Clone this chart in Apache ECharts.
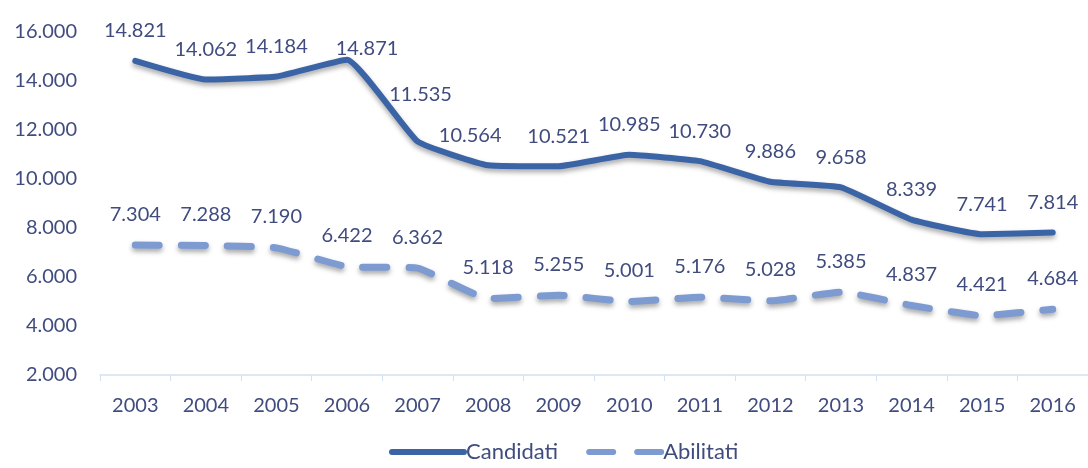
<!DOCTYPE html>
<html><head><meta charset="utf-8">
<script src="https://cdn.jsdelivr.net/npm/echarts@6/dist/echarts.min.js"></script>
<style>html,body{margin:0;padding:0;background:#fff}#c{width:1088px;height:468px}</style>
</head><body><div id="c"></div>
<script>
var years = ['2003','2004','2005','2006','2007','2008','2009','2010','2011','2012','2013','2014','2015','2016'];
var candidati = [14821,14062,14184,14871,11535,10564,10521,10985,10730,9886,9658,8339,7741,7814];
var abilitati = [7304,7288,7190,6422,6362,5118,5255,5001,5176,5028,5385,4837,4421,4684];
function fmt(v){ return String(v).replace(/\B(?=(\d{3})+(?!\d))/g,'.'); }
var txt = '#404c7f';
var fs = 20;
var candLabelTweaks = {3:[20,19],4:[3,-17],5:[-18,0]};
var candData = candidati.map(function(v,i){
  var o = {value:v};
  if (candLabelTweaks[i]) o.label = {offset:candLabelTweaks[i]};
  return o;
});
var chart = echarts.init(document.getElementById('c'));
chart.setOption({
  animation:false,
  textStyle:{fontFamily:'Lato'},
  grid:{left:100,top:32,width:994,height:343},
  legend:{bottom:0,left:384,itemWidth:72,itemHeight:8,itemGap:28,
    itemStyle:{opacity:0},
    textStyle:{color:txt,fontSize:22,fontFamily:'Lato',padding:[0,0,0,-3]},
    data:[
      {name:'Candidati',lineStyle:{width:6,color:'#3b64a6',type:'solid',shadowBlur:0,shadowOffsetY:0,shadowColor:'transparent'}},
      {name:'Abilitati',lineStyle:{width:6,color:'#7d9bd0',type:[24,24],shadowBlur:0,shadowOffsetY:0,shadowColor:'transparent'}}
    ]},
  xAxis:{type:'category',data:years,boundaryGap:true,
    axisLine:{lineStyle:{color:'#d3e1f0',width:1.5}},
    axisTick:{show:true,length:6,lineStyle:{color:'#d3e1f0'}},
    axisLabel:{color:txt,fontSize:fs,margin:21}},
  yAxis:{type:'value',min:2000,max:16000,interval:2000,
    splitLine:{show:false},axisLine:{show:false},axisTick:{show:false},
    axisLabel:{color:txt,fontSize:fs,margin:23,formatter:fmt}},
  series:[
    {name:'Candidati',type:'line',data:candData,smooth:0.12,symbol:'circle',symbolSize:0.01,
     lineStyle:{color:'#3b64a6',width:6,cap:'round',join:'round',shadowColor:'rgba(0,0,0,0.35)',shadowBlur:5,shadowOffsetY:3},
     itemStyle:{color:'#3b64a6'},
     label:{show:true,position:'top',distance:20,color:txt,fontSize:fs,formatter:function(p){return fmt(p.value);}}},
    {name:'Abilitati',type:'line',data:abilitati,smooth:0.12,symbol:'circle',symbolSize:0.01,
     lineStyle:{color:'#7d9bd0',width:7,type:[24,22],cap:'round',join:'round',shadowColor:'rgba(0,0,0,0.35)',shadowBlur:5,shadowOffsetY:3},
     itemStyle:{color:'#7d9bd0'},
     label:{show:true,position:'top',distance:21,color:txt,fontSize:fs,formatter:function(p){return fmt(p.value);}}}
  ]
});
</script></body></html>
